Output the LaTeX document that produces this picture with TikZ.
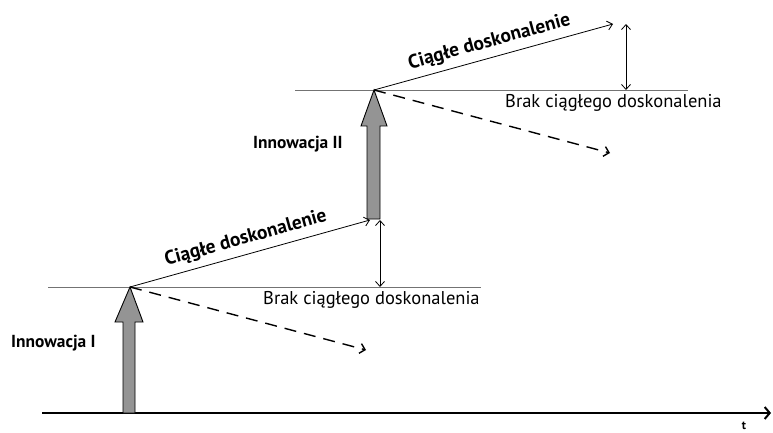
\documentclass[tikz,border=0pt]{standalone}
\usepackage{fontspec}
\setmainfont{PT Sans}
\usetikzlibrary{arrows.meta}
\begin{document}
\begin{tikzpicture}[x=1pt,y=-1pt,
  level/.style={draw=black!55,line width=0.8pt},
  growth/.style={draw=black,line width=0.8pt,-{Straight Barb[length=5pt,width=9pt]}},
  nogrowth/.style={draw=black,line width=1.4pt,dash pattern=on 12pt off 8pt,-{Straight Barb[length=5pt,width=10pt]}},
  gap/.style={draw=black,line width=0.8pt,{Straight Barb[length=5pt,width=9pt]}-{Straight Barb[length=5pt,width=9pt]}},
  jump/.style={draw=black,line width=0.9pt,fill=black!42},
  lbl/.style={font=\fontsize{18.5}{20}\selectfont,inner sep=0pt},
  blbl/.style={font=\bfseries\fontsize{17.4}{19}\selectfont,inner sep=0pt},
  slbl/.style={font=\bfseries\fontsize{19.4}{21}\selectfont,inner sep=0pt,sloped,above=6pt,pos=0.5}]
\useasboundingbox (0,0) rectangle (773,433);

% time axis
\coordinate (ax0) at (42,413);
\coordinate (ax1) at (771,413);
\draw[line width=2pt,-{Straight Barb[length=5pt,width=12pt]}] (ax0) -- (ax1);
\node[inner sep=0pt,font=\bfseries\fontsize{12}{14}\selectfont] (t) at (744,426) {t};

% first level
\coordinate (p1) at (130,287);
\coordinate (l1a) at (48,287);
\coordinate (l1b) at (481,287);
\coordinate (c1) at (370,220);
\coordinate (d1) at (366,350);
\coordinate (g1a) at (380,220);
\coordinate (g1b) at (380,287);
\draw[level] (l1a) -- (l1b);

% second level
\coordinate (p2) at (374,90);
\coordinate (l2a) at (295,90);
\coordinate (l2b) at (688,90);
\coordinate (c2) at (613,24);
\coordinate (d2) at (610,153);
\coordinate (g2a) at (626,24);
\coordinate (g2b) at (626,90);
\draw[level] (l2a) -- (l2b);

% innovation jumps
\draw[jump] (123,413) -- (123,322) -- (115,322) -- (p1) -- (143,322) -- (135,322) -- (135,413) -- cycle;
\draw[jump] (367,219) -- (367,126) -- (361,126) -- (p2) -- (387,126) -- (380,126) -- (380,219) -- cycle;

% improvement paths
\draw[growth] (p1) -- node[slbl] (cd1) {Ciągłe doskonalenie} (c1);
\draw[nogrowth] (p1) -- (d1);
\draw[gap] (g1a) -- (g1b);
\draw[growth] (p2) -- node[slbl] (cd2) {Ciągłe doskonalenie} (c2);
\draw[nogrowth] (p2) -- (d2);
\draw[gap] (g2a) -- (g2b);

% labels
\node[lbl,anchor=west] (b1) at (263,300) {Brak ciągłego doskonalenia};
\node[lbl,anchor=west] (b2) at (505,103) {Brak ciągłego doskonalenia};
\node[blbl,anchor=west] (i1) at (11,343) {Innowacja I};
\node[blbl,anchor=west] (i2) at (253,144) {Innowacja II};
\end{tikzpicture}
\end{document}
